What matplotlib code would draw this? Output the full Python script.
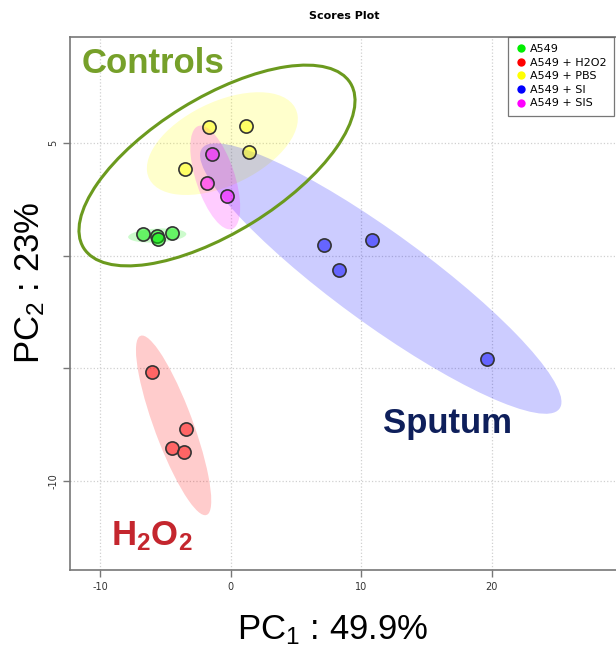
import numpy as np
import matplotlib
matplotlib.use("Agg")
import matplotlib.pyplot as plt
from matplotlib.patches import Ellipse
from matplotlib.lines import Line2D

plt.rcParams["font.family"] = ["DejaVu Sans"]
plt.rcParams["axes.unicode_minus"] = False
plt.rcParams["mathtext.fontset"] = "custom"
plt.rcParams["mathtext.rm"] = "Liberation Sans"
plt.rcParams["mathtext.it"] = "Liberation Sans:italic"
plt.rcParams["mathtext.bf"] = "Liberation Sans:bold"

# PCA scores
groups = ["A549", "A549 + H2O2", "A549 + PBS", "A549 + SI", "A549 + SIS"]
colors = ["#00ee00", "#ff0000", "#ffff00", "#0000ff", "#ff00ff"]
pc1 = {
    "A549": [-6.74, -5.66, -5.59, -4.51],
    "A549 + H2O2": [-6.00, -3.44, -4.47, -3.57],
    "A549 + PBS": [-1.66, 1.18, 1.43, -3.49],
    "A549 + SI": [7.16, 10.86, 8.33, 19.67],
    "A549 + SIS": [-1.45, -1.79, -0.30],
}
pc2 = {
    "A549": [0.95, 0.87, 0.72, 1.02],
    "A549 + H2O2": [-5.18, -7.70, -8.55, -8.70],
    "A549 + PBS": [5.69, 5.77, 4.59, 3.83],
    "A549 + SI": [0.47, 0.69, -0.64, -4.59],
    "A549 + SIS": [4.50, 3.24, 2.66],
}
xticks = [-10, 0, 10, 20]
yticks = [5, 0, -5, -10]
ytick_labels = ["5", "", "", "-10"]

fig = plt.figure(figsize=(6.16, 6.46), dpi=100)
ax = fig.add_axes([70 / 616, 76 / 646, 550 / 616, 533 / 646])
ax.set_xlim(-12.31, 29.84)
ax.set_ylim(-13.95, 9.70)

# 95% confidence ellipses
k = np.sqrt(-2 * np.log(0.05))
for g, c in zip(groups, colors):
    pts = np.column_stack([pc1[g], pc2[g]])
    m = pts.mean(axis=0)
    vals, vecs = np.linalg.eigh(np.cov(pts.T))
    ang = np.degrees(np.arctan2(vecs[1, 1], vecs[0, 1]))
    ax.add_patch(Ellipse(m, 2 * k * np.sqrt(vals[1]), 2 * k * np.sqrt(vals[0]),
                         angle=ang, facecolor=c, alpha=0.2, edgecolor="none", zorder=1))

for g, c in zip(groups, colors):
    ax.scatter(pc1[g], pc2[g], s=90, facecolor=matplotlib.colors.to_rgba(c, 0.5),
               edgecolor="#333333", linewidth=1.2, zorder=3)

ax.set_xticks(xticks)
ax.set_yticks(yticks)
ax.set_yticklabels(ytick_labels, rotation=90, va="center")
ax.grid(True, linestyle=":", color="#d0d0d0", linewidth=0.9)
ax.set_axisbelow(True)
for s in ax.spines.values():
    s.set_color("#777777")
    s.set_linewidth(1.2)
ax.tick_params(colors="#777777", labelcolor="#333333", labelsize=7, length=5, width=1)

# legend
handles = [Line2D([], [], marker="o", linestyle="none", markersize=6,
                  markerfacecolor=c, markeredgecolor="none") for c in colors]
leg = ax.legend(handles, groups, loc="upper left", bbox_to_anchor=((508 - 70) / 550, 1.0),
                fontsize=8, frameon=True, fancybox=False, borderaxespad=0,
                handletextpad=0.35, handlelength=1.0, labelspacing=0.32, borderpad=0.65)
leg.get_frame().set_edgecolor("#555555")
leg.get_frame().set_linewidth(0.9)

# annotations
ax.text(-11.39, 8.10, "Controls", color="#76a02a", fontsize=25, weight="bold",
        family="Liberation Sans", ha="left", va="baseline")
ax.text(11.68, -7.87, "Sputum", color="#0e1f5b", fontsize=25, weight="bold",
        family="Liberation Sans", ha="left", va="baseline")
ax.text(-9.14, -12.85, r"$\mathbf{H_2O_2}$", color="#c4262e", fontsize=25,
        ha="left", va="baseline")
fig.patches.append(Ellipse((2.17, 4.805), 3.136, 1.348, angle=31.7, fill=False,
                           edgecolor="#6b9a1e", linewidth=2.2,
                           transform=fig.dpi_scale_trans, figure=fig, zorder=5))

fig.text(344 / 616, 1 - 16 / 646, "Scores Plot", ha="center", va="center",
         fontsize=8, weight="bold")
fig.text(333 / 616, 1 - 630 / 646, "PC$_1$ : 49.9%", ha="center", va="center",
         fontsize=25, family="Liberation Sans")
fig.text(30 / 616, 1 - 283 / 646, "PC$_2$ : 23%", ha="center", va="center",
         fontsize=25, family="Liberation Sans", rotation=90)

fig.savefig("out.png", dpi=100)
